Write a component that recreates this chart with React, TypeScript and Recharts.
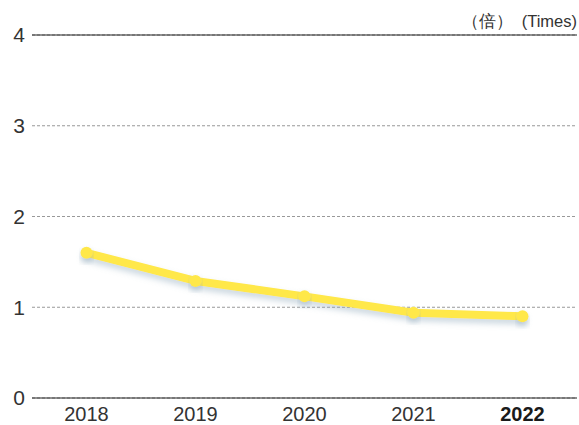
import { LineChart, Line, XAxis, YAxis, CartesianGrid, ReferenceLine } from 'recharts'

const years = ['2018', '2019', '2020', '2021', '2022']
const ratio = [1.6, 1.29, 1.12, 0.94, 0.9]
const yTicks = [0, 1, 2, 3, 4]

const data = years.map((year, i) => ({ year, ratio: ratio[i] }))

const FONT = '"Liberation Sans", Arial, sans-serif'
const YELLOW = '#ffe84a'

// last year is highlighted in bold
function YearTick(props: any) {
  const { x, y, payload } = props
  const isLast = payload.value === years[years.length - 1]
  return (
    <text
      x={x}
      y={y}
      dy={17}
      textAnchor="middle"
      fontFamily={FONT}
      fontSize={20}
      fontWeight={isLast ? 700 : 400}
      fill={isLast ? '#1a1a1a' : '#333'}
    >
      {payload.value}
    </text>
  )
}

export default function App() {
  return (
    <div style={{ position: 'fixed', left: 0, top: 0, width: 579, height: 425, background: '#fff' }}>
      <div
        style={{
          position: 'absolute',
          right: 2,
          top: 11,
          fontFamily: FONT,
          fontSize: 16.5,
          color: '#333',
          whiteSpace: 'pre',
        }}
      >
        （倍）  (Times)
      </div>
      <LineChart width={579} height={425} data={data} margin={{ top: 35, right: 2, bottom: 0, left: 0 }}>
        <defs>
          <filter id="lineShadow" x="-10%" y="-50%" width="120%" height="200%">
            <feDropShadow dx="0" dy="4" stdDeviation="3" floodColor="#8aa4b8" floodOpacity="0.45" />
          </filter>
        </defs>
        <CartesianGrid vertical={false} stroke="#999" strokeDasharray="3 2" />
        <ReferenceLine y={4} stroke="#222" strokeWidth={1.2} />
        <XAxis
          dataKey="year"
          height={27}
          padding={{ left: 54.5, right: 54.5 }}
          axisLine={{ stroke: '#222', strokeWidth: 1.2 }}
          tickLine={false}
          tick={<YearTick />}
          tickMargin={0}
          interval={0}
        />
        <YAxis
          domain={[0, 4]}
          ticks={yTicks}
          width={32}
          axisLine={false}
          tickLine={false}
          tickMargin={1}
          tick={{ fontFamily: FONT, fontSize: 21, fill: '#333' }}
        />
        <Line
          type="linear"
          dataKey="ratio"
          stroke={YELLOW}
          strokeWidth={8}
          strokeLinecap="round"
          strokeLinejoin="round"
          dot={{ r: 6, fill: YELLOW, stroke: 'none' }}
          filter="url(#lineShadow)"
          isAnimationActive={false}
        />
      </LineChart>
    </div>
  )
}
